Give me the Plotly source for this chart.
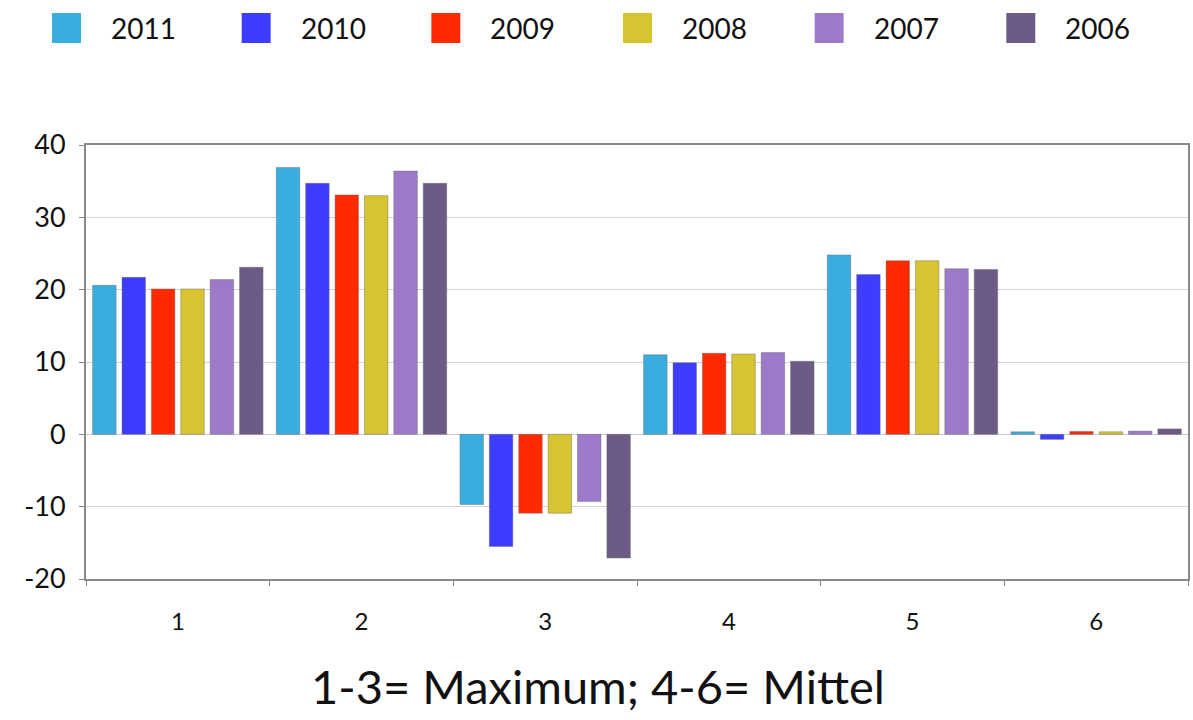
import plotly.graph_objects as go

# Categories on the x axis and the year series
categories = ["1", "2", "3", "4", "5", "6"]
years = ["2011", "2010", "2009", "2008", "2007", "2006"]

values_2011 = [20.6, 36.9, -9.7, 11.0, 24.8, 0.35]
values_2010 = [21.7, 34.7, -15.5, 9.9, 22.1, -0.7]
values_2009 = [20.1, 33.1, -10.9, 11.2, 24.0, 0.4]
values_2008 = [20.1, 33.0, -10.9, 11.1, 24.0, 0.35]
values_2007 = [21.4, 36.4, -9.3, 11.3, 22.9, 0.45]
values_2006 = [23.1, 34.7, -17.1, 10.1, 22.8, 0.75]

y_ticks = [-20, -10, 0, 10, 20, 30, 40]
title_text = "1-3= Maximum; 4-6= Mittel"

series = [values_2011, values_2010, values_2009, values_2008, values_2007, values_2006]
colors = ["#38ADDE", "#3D3CFF", "#FF2A00", "#D8C331", "#9C79C9", "#6B5B86"]

FONT = "Lato"

fig = go.Figure()
for year, vals, col in zip(years, series, colors):
    fig.add_trace(go.Bar(
        x=categories, y=vals, name=year,
        marker=dict(color=col, line=dict(color="rgba(110,110,110,0.45)", width=1)),
        showlegend=False,
    ))

# Plot-area geometry in pixels (used to place the legend row and caption)
W, H = 1193, 720
L, R, T, B = 86, 3, 145, 141
pw, ph = W - L - R, H - T - B

def px_to_paper_x(px):
    return (px - L) / pw

def px_to_paper_y(py):
    return (H - B - py) / ph

shapes = []
annotations = []
sq_left = [52, 242, 432, 624, 816, 1008]
sq_w, sq_h = 29, 30
legend_cy = 28
for x0, year, col in zip(sq_left, years, colors):
    shapes.append(dict(
        type="rect", xref="paper", yref="paper",
        x0=px_to_paper_x(x0), x1=px_to_paper_x(x0 + sq_w),
        y0=px_to_paper_y(legend_cy + sq_h / 2), y1=px_to_paper_y(legend_cy - sq_h / 2),
        fillcolor=col, line=dict(width=0),
    ))
    annotations.append(dict(
        text=year, xref="paper", yref="paper",
        x=px_to_paper_x(x0 + 57), y=px_to_paper_y(legend_cy),
        xanchor="left", yanchor="middle", showarrow=False,
        font=dict(family=FONT, size=28, color="#111111"),
    ))

annotations.append(dict(
    text=title_text, xref="paper", yref="paper",
    x=px_to_paper_x(599), y=px_to_paper_y(686),
    xanchor="center", yanchor="middle", showarrow=False,
    font=dict(family=FONT, size=47, color="#111111"),
))

fig.update_layout(
    width=W, height=H,
    margin=dict(l=L, r=R, t=T, b=B),
    paper_bgcolor="white", plot_bgcolor="white",
    barmode="group", bargap=0.04, bargroupgap=0.2,
    shapes=shapes, annotations=annotations,
    showlegend=False,
    font=dict(family=FONT, color="#111111"),
)
fig.update_xaxes(
    type="category", tickson="boundaries",
    ticks="outside", ticklen=5, tickcolor="#888888",
    showline=True, linecolor="#8a8a8a", linewidth=2, mirror=True,
    showgrid=False,
    tickfont=dict(family=FONT, size=24, color="#111111"),
    ticklabelstandoff=20,
)
fig.update_yaxes(
    range=[-20, 40], tickvals=y_ticks, ticktext=[str(v) for v in y_ticks],
    ticks="outside", ticklen=5, tickcolor="#888888",
    showline=True, linecolor="#8a8a8a", linewidth=2, mirror=True,
    showgrid=True, gridcolor="#d4d4d4", gridwidth=1,
    zeroline=True, zerolinecolor="#c8c8c8", zerolinewidth=1,
    tickfont=dict(family=FONT, size=27, color="#111111"),
    ticklabelstandoff=8,
)

fig.write_html("out.html")
